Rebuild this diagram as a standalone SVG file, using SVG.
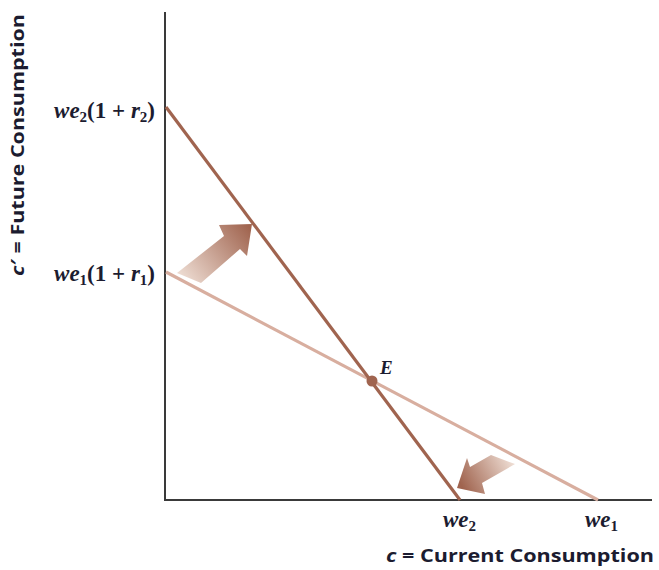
<svg xmlns="http://www.w3.org/2000/svg" width="659" height="570" viewBox="0 0 659 570">
<style>
.axis{stroke:#3a3a3a;stroke-width:2;fill:none}
.dark{stroke:#a0644f;stroke-width:3.2;fill:none}
.light{stroke:#d8ae9f;stroke-width:3.2;fill:none}
.math{font-family:"Liberation Serif",serif;font-weight:bold;font-style:italic;font-size:23px;fill:#1c1c30}
.up{font-family:"Liberation Serif",serif;font-weight:bold;font-size:23px;fill:#1c1c30}
.sub{font-size:15px}
.title{font-family:"Open Sans","Liberation Sans",sans-serif;font-weight:bold;font-size:18px;fill:#1c1c30}
</style>
<defs>
<linearGradient id="g1" gradientUnits="userSpaceOnUse" x1="185" y1="280" x2="250" y2="228">
<stop offset="0" stop-color="#ecdad0"/>
<stop offset="1" stop-color="#a0644f"/>
</linearGradient>
<linearGradient id="g2" gradientUnits="userSpaceOnUse" x1="510" y1="460" x2="462" y2="486">
<stop offset="0" stop-color="#ecdad0"/>
<stop offset="1" stop-color="#a0644f"/>
</linearGradient>
</defs>
<g id="axes">
<line class="axis" x1="165" y1="12" x2="165" y2="501"/>
<line class="axis" x1="164" y1="500" x2="652" y2="500"/>
</g>
<g id="connectors">
<line class="light" x1="166" y1="272" x2="598" y2="500"/>
<line class="dark" x1="166" y1="107" x2="460" y2="500"/>
</g>
<g id="arrow-up">
<polygon points="177,273 224,236 219,225 252,224 247,256 240,249 201,283" fill="url(#g1)"/>
</g>
<g id="arrow-down">
<polygon points="515,464 482,483 485,494 457,488 467,458 470,467 491,455" fill="url(#g2)"/>
</g>
<g id="E">
<circle cx="372" cy="381" r="5.5" fill="#a0644f"/>
<text class="math" x="380" y="374" style="font-size:19px">E</text>
</g>
<g id="ylabels">
<text class="up" x="155" y="118" text-anchor="end"><tspan class="math">we</tspan><tspan class="sub" dy="4">2</tspan><tspan dy="-4">(1 + </tspan><tspan class="math">r</tspan><tspan class="sub" dy="4">2</tspan><tspan dy="-4">)</tspan></text>
<text class="up" x="155" y="281" text-anchor="end"><tspan class="math">we</tspan><tspan class="sub" dy="4">1</tspan><tspan dy="-4">(1 + </tspan><tspan class="math">r</tspan><tspan class="sub" dy="4">1</tspan><tspan dy="-4">)</tspan></text>
</g>
<g id="xlabels">
<text class="up" x="443" y="527"><tspan class="math">we</tspan><tspan class="sub" dy="4">2</tspan></text>
<text class="up" x="585" y="527"><tspan class="math">we</tspan><tspan class="sub" dy="4">1</tspan></text>
</g>
<g id="titles">
<text class="title" x="386" y="562" textLength="268" lengthAdjust="spacingAndGlyphs"><tspan style="font-style:italic">c</tspan> = Current Consumption</text>
<text class="title" transform="translate(24,276) rotate(-90)" x="0" y="0" textLength="262" lengthAdjust="spacingAndGlyphs"><tspan style="font-style:italic">c</tspan>′ = Future Consumption</text>
</g>
</svg>
